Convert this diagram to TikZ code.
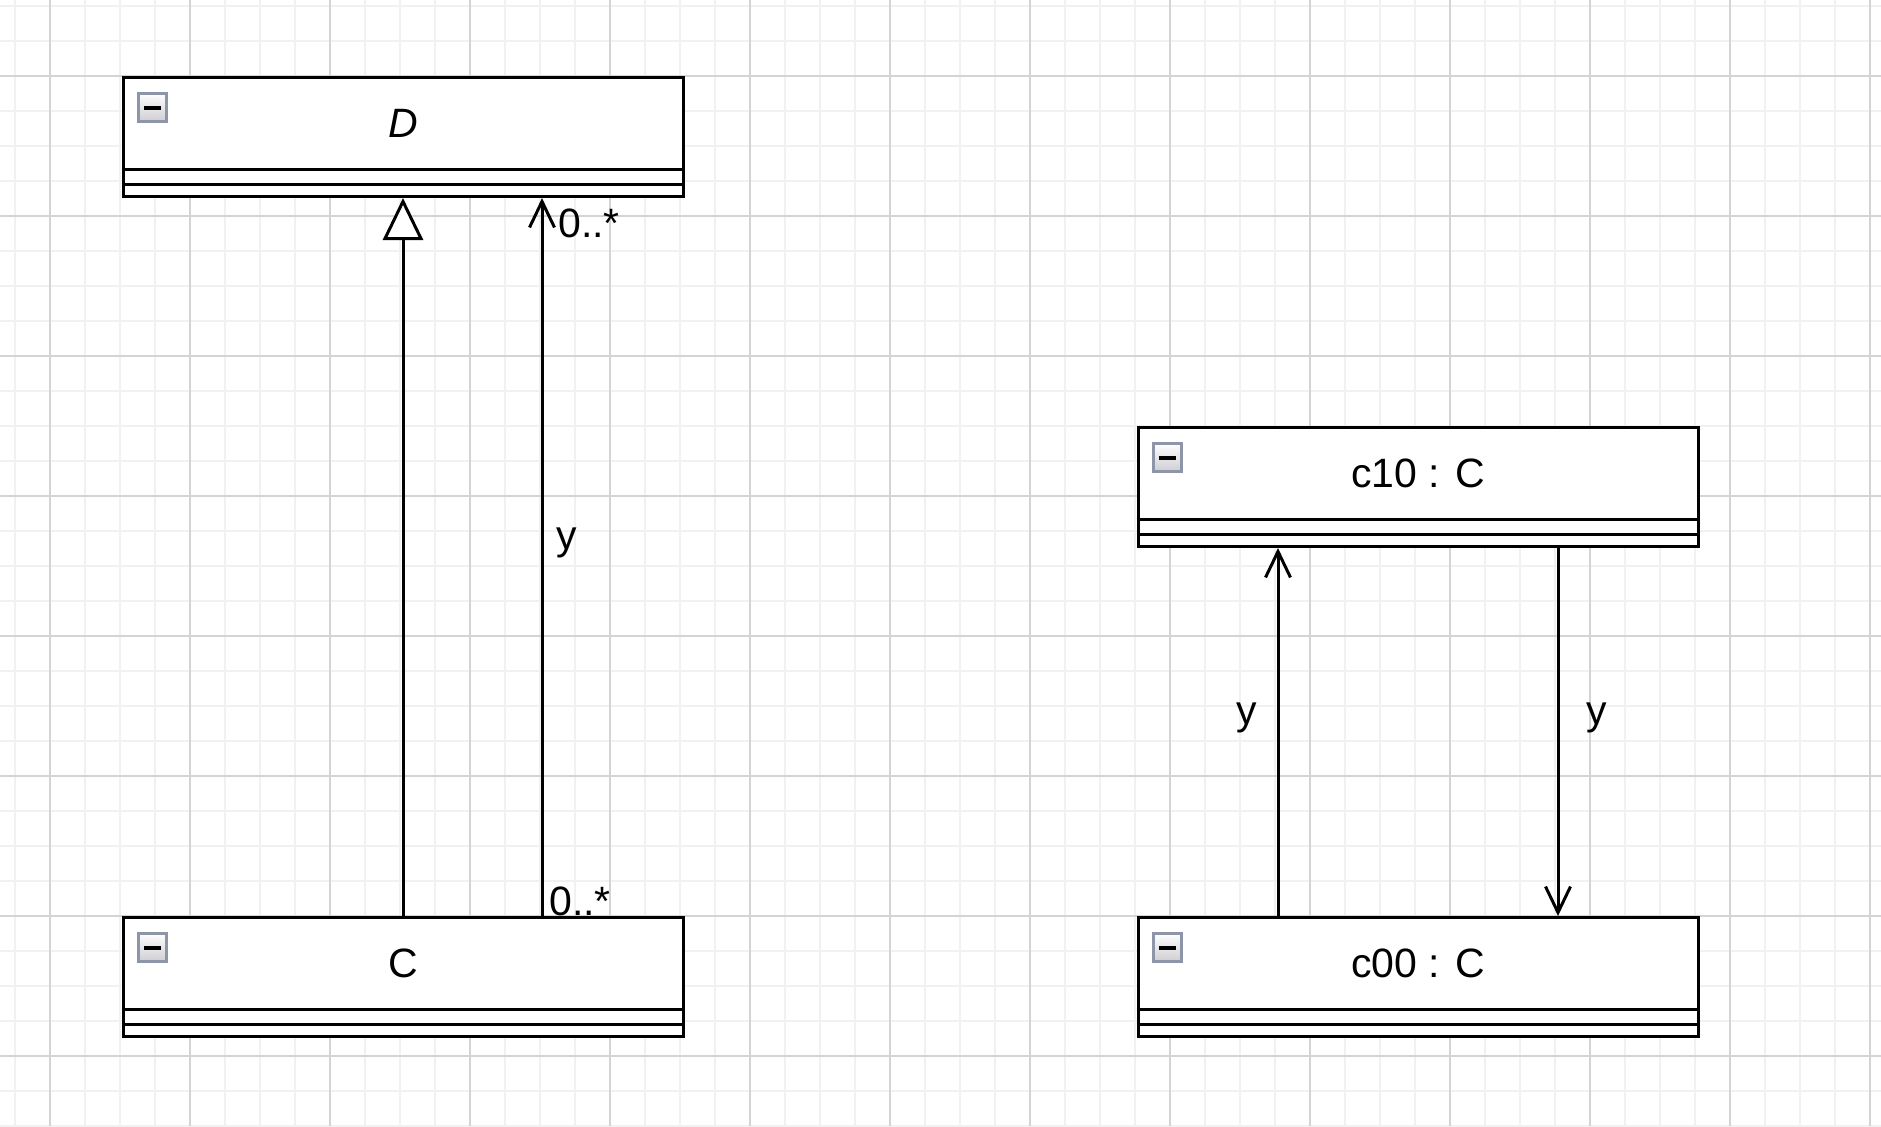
\documentclass[tikz,border=0pt]{standalone}
\usepackage{fontspec}
\setmainfont{Liberation Sans}
\usetikzlibrary{arrows.meta}
\definecolor{gridminor}{HTML}{F1F1F1}
\definecolor{gridmajor}{HTML}{D4D4D4}
\definecolor{iconborder}{HTML}{8E95A8}
\definecolor{iconbot}{HTML}{CFCFD4}
\begin{document}
\begin{tikzpicture}[x=0.5pt,y=-0.5pt,
  classbox/.style={draw=black, line width=1.5pt, fill=white, minimum width=280pt, minimum height=59.5pt, inner sep=0pt},
  sepline/.style={draw=black, line width=1.5pt},
  iconbox/.style={draw=iconborder, line width=1.5pt, top color=white, bottom color=iconbot, minimum size=14pt, inner sep=0pt},
  iconbar/.style={fill=black, draw=none, minimum width=8.5pt, minimum height=2pt, inner sep=0pt},
  nametext/.style={font=\fontsize{20.5}{24}\selectfont, anchor=base, inner sep=0pt},
  lbltext/.style={font=\fontsize{20.5}{24}\selectfont, anchor=base west, inner sep=0pt},
  gen/.style={draw=black, line width=1.5pt, -{Triangle[fill=white, length=21pt, width=20pt]}},
  assoc/.style={draw=black, line width=1.5pt, -{Straight Barb[length=13pt, width=12.5pt]}}]
\useasboundingbox (0,0) rectangle (1881,1126);
\fill[white] (0,0) rectangle (1881,1126);
% grid
\foreach \x in {15,50,...,1880} \draw[gridminor, line width=1pt] (\x,0) -- (\x,1126);
\foreach \y in {6,41,...,1126} \draw[gridminor, line width=1pt] (0,\y) -- (1881,\y);
\foreach \x in {50,190,...,1880} \draw[gridmajor, line width=0.7pt] (\x,0) -- (\x,1126);
\foreach \y in {76,216,...,1126} \draw[gridmajor, line width=0.7pt] (0,\y) -- (1881,\y);
% boxes
\foreach \n/\px/\py in {D/403/137, C/403/977, c10/1418/487, c00/1418/977}{
  \node[classbox] (\n) at (\px,\py) {};
  \draw[sepline] ([yshift=14.5pt]\n.south west) -- ([yshift=14.5pt]\n.south east);
  \draw[sepline] ([yshift=7pt]\n.south west) -- ([yshift=7pt]\n.south east);
  \node[iconbox] (\n icon) at ([xshift=15.5pt,yshift=-15.5pt]\n.north west) {};
  \node[iconbar] (\n bar) at ([yshift=-0.25pt]\n icon.center) {};
}
\node[nametext] (Dname) at ([yshift=-30.5pt]D.north) {\itshape D};
\node[nametext] (Cname) at ([yshift=-30.5pt]C.north) {C};
\node[nametext] (c10name) at ([yshift=-30.5pt]c10.north) {c10 : C};
\node[nametext] (c00name) at ([yshift=-30.5pt]c00.north) {c00 : C};
% connectors
\draw[gen] (C.north) -- (D.south);
\draw[assoc] ([xshift=69.5pt]C.north) -- ([xshift=69.5pt]D.south);
\draw[assoc] ([xshift=-70pt]c00.north) -- ([xshift=-70pt]c10.south);
\draw[assoc] ([xshift=70pt]c10.south) -- ([xshift=70pt]c00.north);
% labels
\node[lbltext] (m1) at (558,237) {0..*};
\node[lbltext] (m2) at (549,915) {0..*};
\node[lbltext] (y1) at (556,549) {y};
\node[lbltext] (y2) at (1236,724) {y};
\node[lbltext] (y3) at (1586,724) {y};
\end{tikzpicture}
\end{document}
